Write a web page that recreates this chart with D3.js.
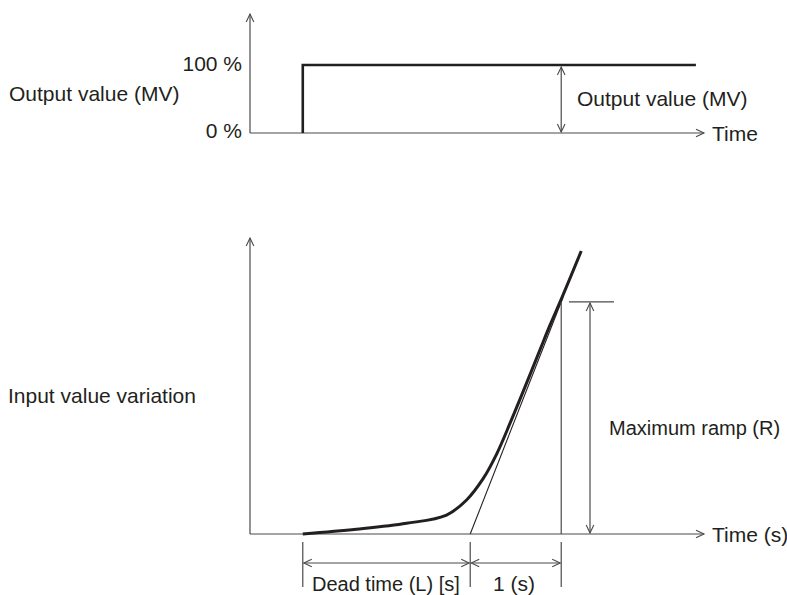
<!DOCTYPE html>
<html><head><meta charset="utf-8">
<script src="https://cdn.jsdelivr.net/npm/d3@7"></script>
<style>body{margin:0;background:#fff}svg text{font-family:"Liberation Sans",Arial,sans-serif;font-size:21px;fill:#231f20}</style>
</head><body><div id="chart"></div>
<script>
// ---- data ----
const timeDomain = [0, 5];
const stepTime = 0.58;          // output switched on
const stepEnd = 4.9;
const outputLevels = [0, 100];  // %
const outputTickLabels = ["0 %", "100 %"];
const deadTimeEnd = 2.42;       // L
const rampTime = 3.42;          // L + 1 s
const maxRamp = 78.4;           // R
const responseT = [0.58, 1.17, 1.72, 2.16, 2.38, 2.56, 2.71, 2.86, 3.0, 3.19, 3.3, 3.43, 3.64];
const responseV = [0, 1.6, 3.6, 6.4, 11.5, 18.6, 27.0, 37.6, 48.0, 62.5, 70.8, 80.0, 95.6];
const tangentT = [2.42, 3.44];
const tangentV = [0, 80.0];

const W = 787, H = 595;
const svg = d3.select("#chart").append("svg").attr("width", W).attr("height", H);
const ink = "#231f20", thin = "#4a4a4a";

const x = d3.scaleLinear().domain(timeDomain).range([250, 705]);
const yTop = d3.scaleLinear().domain([0, 100]).range([133, 65]);
const yBot = d3.scaleLinear().domain([0, 100]).range([534, 238]);

function arrowHead(g, tipX, tipY, dir) {
  const L = 8, w = 3.8;
  let pts;
  if (dir === 'up') pts = [[tipX - w, tipY + L], [tipX, tipY], [tipX + w, tipY + L]];
  if (dir === 'down') pts = [[tipX - w, tipY - L], [tipX, tipY], [tipX + w, tipY - L]];
  if (dir === 'right') pts = [[tipX - L, tipY - w], [tipX, tipY], [tipX - L, tipY + w]];
  if (dir === 'left') pts = [[tipX + L, tipY - w], [tipX, tipY], [tipX + L, tipY + w]];
  g.append("path").attr("d", d3.line()(pts)).attr("fill", "none").attr("stroke", thin).attr("stroke-width", 1.1);
}
function seg(g, x1, y1, x2, y2, w, c) {
  g.append("line").attr("x1", x1).attr("y1", y1).attr("x2", x2).attr("y2", y2)
    .attr("stroke", c || thin).attr("stroke-width", w || 1.2);
}

// ---- top chart ----
const gTop = svg.append("g");
seg(gTop, x(0), yTop(0), x(0), 14);
arrowHead(gTop, x(0), 14, 'up');
seg(gTop, x(0), yTop(0), 704, yTop(0));
arrowHead(gTop, 704, yTop(0), 'right');
gTop.append("text").attr("x", 712).attr("y", yTop(0) + 8).text("Time");
outputLevels.forEach((v, i) => {
  gTop.append("text").attr("x", 242).attr("y", yTop(v) + (i === 0 ? 5 : 6)).attr("text-anchor", "end").text(outputTickLabels[i]);
});
gTop.append("text").attr("x", 9).attr("y", 101).text("Output value (MV)");
const stepPts = [[stepTime, 0], [stepTime, 100], [stepEnd, 100]];
gTop.append("path").attr("d", d3.line().x(d => x(d[0])).y(d => yTop(d[1]))(stepPts))
  .attr("fill", "none").attr("stroke", ink).attr("stroke-width", 2.6).attr("stroke-linejoin", "miter");
seg(gTop, x(rampTime), yTop(100) + 2, x(rampTime), yTop(0) - 1);
arrowHead(gTop, x(rampTime), yTop(100) + 2, 'up');
arrowHead(gTop, x(rampTime), yTop(0) - 1, 'down');
gTop.append("text").attr("x", 577).attr("y", 106).text("Output value (MV)");

// ---- bottom chart ----
const gBot = svg.append("g");
seg(gBot, x(0), yBot(0), x(0), 238);
arrowHead(gBot, x(0), 238, 'up');
seg(gBot, x(0), yBot(0), 704, yBot(0));
arrowHead(gBot, 704, yBot(0), 'right');
gBot.append("text").attr("x", 712).attr("y", yBot(0) + 8).text("Time (s)");
gBot.append("text").attr("x", 8).attr("y", 403).text("Input value variation");

// tangent (thin)
gBot.append("path").attr("d", d3.line().x((d, i) => x(tangentT[i])).y((d, i) => yBot(tangentV[i]))(tangentT))
  .attr("fill", "none").attr("stroke", ink).attr("stroke-width", 1.1);
// response curve (thick)
gBot.append("path").attr("d", d3.line().curve(d3.curveCatmullRom.alpha(0.5))
    .x((d, i) => x(responseT[i])).y((d, i) => yBot(responseV[i]))(responseT))
  .attr("fill", "none").attr("stroke", ink).attr("stroke-width", 3).attr("stroke-linecap", "butt");

// max ramp markers
seg(gBot, x(rampTime), yBot(maxRamp), x(rampTime), yBot(0));
seg(gBot, 569, yBot(maxRamp), 614, yBot(maxRamp));
seg(gBot, 590, yBot(maxRamp) + 1, 590, yBot(0) - 1);
arrowHead(gBot, 590, yBot(maxRamp) + 1, 'up');
arrowHead(gBot, 590, yBot(0) - 1, 'down');
gBot.append("text").attr("x", 609).attr("y", 435).style("font-size", "20px").text("Maximum ramp (R)");

// dimension lines
[stepTime, deadTimeEnd, rampTime].forEach(t => seg(gBot, x(t), 542, x(t), 587));
const dimY = 563;
seg(gBot, x(stepTime) + 1, dimY, x(deadTimeEnd) - 1, dimY);
arrowHead(gBot, x(stepTime) + 1, dimY, 'left');
arrowHead(gBot, x(deadTimeEnd) - 1, dimY, 'right');
seg(gBot, x(deadTimeEnd) + 1, dimY, x(rampTime) - 1, dimY);
arrowHead(gBot, x(deadTimeEnd) + 1, dimY, 'left');
arrowHead(gBot, x(rampTime) - 1, dimY, 'right');
gBot.append("text").attr("x", 312).attr("y", 591).style("font-size", "20px").text("Dead time (L) [s]");
gBot.append("text").attr("x", 493).attr("y", 591).text("1 (s)");
</script></body></html>
